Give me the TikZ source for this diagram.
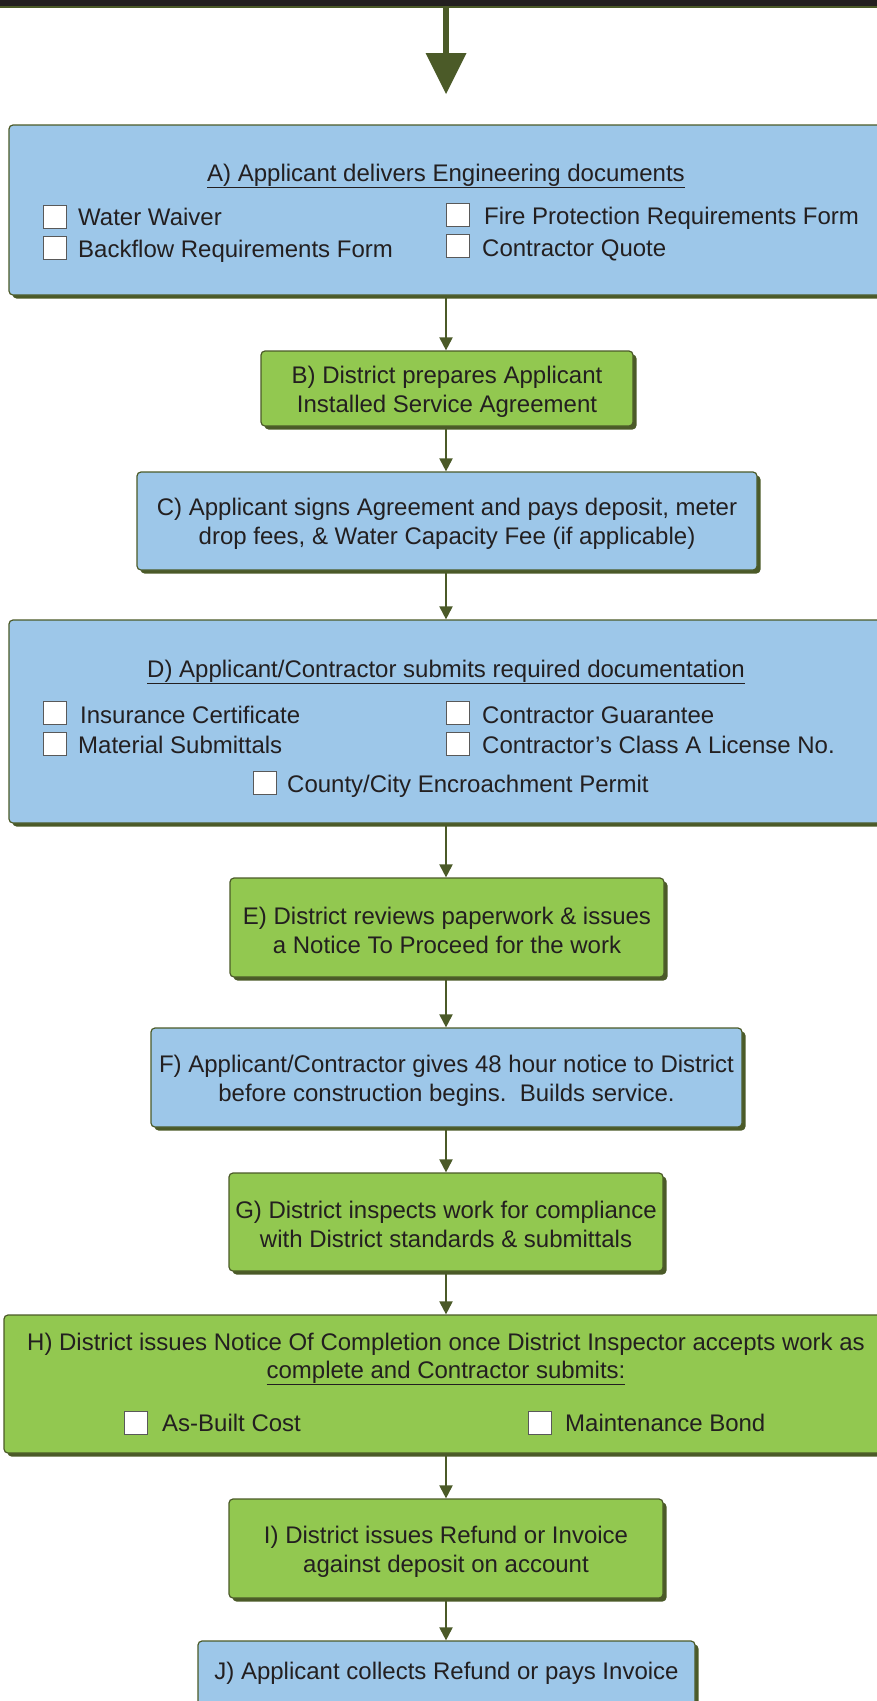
\documentclass[tikz,border=0pt]{standalone}
\usepackage{fontspec}
\setmainfont{Liberation Sans}
\usetikzlibrary{arrows.meta,shadows}
\definecolor{boxblue}{HTML}{9DC7E9}
\definecolor{boxgreen}{HTML}{92C850}
\definecolor{olivedk}{HTML}{4B5A28}
\definecolor{barblack}{HTML}{231F20}
\newcommand\topstrut{\rule{0pt}{23pt}}
\begin{document}
\begin{tikzpicture}[x=1pt,y=-1pt,
  stepbox/.style={draw=olivedk, line width=1.2pt, rounded corners=4pt, inner sep=0pt, align=center,
     font=\fontsize{24}{29}\selectfont, text=barblack,
     drop shadow={shadow xshift=3.5pt, shadow yshift=-3.5pt, fill=olivedk, opacity=1}},
  bluebox/.style={stepbox, fill=boxblue},
  greenbox/.style={stepbox, fill=boxgreen},
  chk/.style={draw=black!65, fill=white, line width=0.9pt, minimum width=23pt, minimum height=23pt, inner sep=0pt},
  lbl/.style={inner sep=0pt, font=\fontsize{24}{29}\selectfont, text=barblack},
  flow/.style={draw=olivedk, line width=2pt, -{Triangle[length=13pt,width=13pt]}}
]
\useasboundingbox (0,0) rectangle (877,1701);
\clip (0,0) rectangle (877,1701);

% top bar and big arrow
\fill[barblack] (0,0) rectangle (877,5.5);
\fill[olivedk] (0,5.5) rectangle (877,7.5);
\coordinate (barbot) at (446,7);
\coordinate (headtop) at (446,53);
\coordinate (tip) at (446,94);
\draw[olivedk, line width=5.5pt] (barbot) -- (headtop);
\fill[olivedk] ([xshift=-20.5pt]headtop) -- ([xshift=20.5pt]headtop) -- (tip) -- cycle;

% boxes
\node[bluebox, minimum width=874pt, minimum height=170pt] (A) at (446,210) {};
\node[greenbox, minimum width=372pt, minimum height=75pt] (B) at (447,388.5) {\topstrut B) District prepares Applicant\\Installed Service Agreement};
\node[bluebox, minimum width=620pt, minimum height=98pt] (C) at (447,521) {\topstrut C) Applicant signs Agreement and pays deposit, meter\\drop fees, \& Water Capacity Fee (if applicable)};
\node[bluebox, minimum width=874pt, minimum height=203pt] (D) at (446,721.5) {};
\node[greenbox, minimum width=434pt, minimum height=99pt] (E) at (447,927.5) {\topstrut E) District reviews paperwork \& issues\\a Notice To Proceed for the work};
\node[bluebox, minimum width=591pt, minimum height=99pt] (F) at (446.5,1077.5) {\topstrut F) Applicant/Contractor gives 48 hour notice to District\\before construction begins.\ \ Builds service.};
\node[greenbox, minimum width=434pt, minimum height=98pt] (G) at (446,1222) {\topstrut G) District inspects work for compliance\\with District standards \& submittals};
\node[greenbox, minimum width=884pt, minimum height=138pt] (H) at (446,1384) {};
\node[greenbox, minimum width=434pt, minimum height=99pt] (I) at (446,1548.5) {\topstrut I) District issues Refund or Invoice\\against deposit on account};
\node[bluebox, minimum width=497pt, minimum height=64pt] (J) at (446.5,1673) {J) Applicant collects Refund or pays Invoice};

% box A contents
\node[lbl, anchor=base] (Atitle) at (446,181) {\underline{A) Applicant delivers Engineering documents}};
\node[chk] (cA1) at (54.5,217) {};
\node[lbl, anchor=base west] (tA1) at (78,225) {Water Waiver};
\node[chk] (cA2) at (54.5,248) {};
\node[lbl, anchor=base west] (tA2) at (78,257) {Backflow Requirements Form};
\node[chk] (cA3) at (458,215) {};
\node[lbl, anchor=base west] (tA3) at (484,224) {Fire Protection Requirements Form};
\node[chk] (cA4) at (458,246) {};
\node[lbl, anchor=base west] (tA4) at (482,256) {Contractor Quote};

% box D contents
\node[lbl, anchor=base] (Dtitle) at (446,677) {\underline{D) Applicant/Contractor submits required documentation}};
\node[chk] (cD1) at (54.5,713) {};
\node[lbl, anchor=base west] (tD1) at (80,723) {Insurance Certificate};
\node[chk] (cD2) at (458,713) {};
\node[lbl, anchor=base west] (tD2) at (482,723) {Contractor Guarantee};
\node[chk] (cD3) at (54.5,744) {};
\node[lbl, anchor=base west] (tD3) at (78,753) {Material Submittals};
\node[chk] (cD4) at (458,744) {};
\node[lbl, anchor=base west] (tD4) at (482,753) {Contractor’s Class A License No.};
\node[chk] (cD5) at (264.5,783) {};
\node[lbl, anchor=base west] (tD5) at (287,792) {County/City Encroachment Permit};

% box H contents
\node[lbl, anchor=base] (Hline1) at (446,1350) {H) District issues Notice Of Completion once District Inspector accepts work as};
\node[lbl, anchor=base] (Hline2) at (446,1378) {\underline{complete and Contractor submits:}};
\node[chk] (cH1) at (136,1422.5) {};
\node[lbl, anchor=base west] (tH1) at (162,1431) {As-Built Cost};
\node[chk] (cH2) at (540,1422.5) {};
\node[lbl, anchor=base west] (tH2) at (565,1431) {Maintenance Bond};

% connectors
\draw[flow] (A.south) -- (A.south |- B.north);
\draw[flow] (B.south -| A.south) -- (A.south |- C.north);
\draw[flow] (C.south -| A.south) -- (A.south |- D.north);
\draw[flow] (D.south) -- (D.south |- E.north);
\draw[flow] (E.south -| D.south) -- (D.south |- F.north);
\draw[flow] (F.south -| D.south) -- (D.south |- G.north);
\draw[flow] (G.south -| D.south) -- (D.south |- H.north);
\draw[flow] (H.south) -- (H.south |- I.north);
\draw[flow] (I.south -| H.south) -- (H.south |- J.north);
\end{tikzpicture}
\end{document}
